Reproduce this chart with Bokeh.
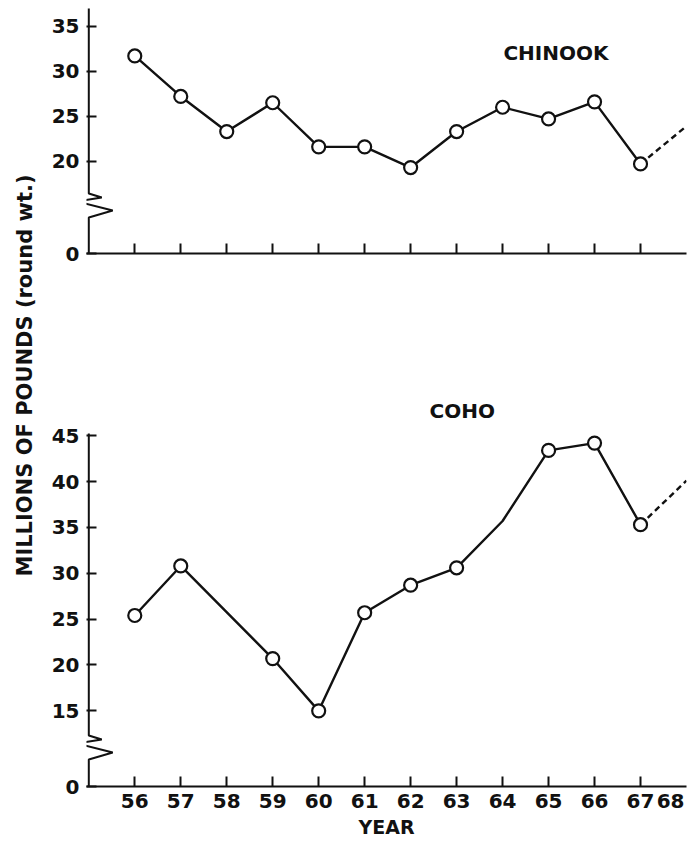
import math
from bokeh.plotting import figure
from bokeh.models import Range1d, FixedTicker, LinearAxis
from bokeh.layouts import row, column
from bokeh.embed import file_html
from bokeh.resources import INLINE
from bokeh.core.properties import value

# ---------------- data ----------------
years = [56, 57, 58, 59, 60, 61, 62, 63, 64, 65, 66, 67]
chinook = [31.7, 27.2, 23.3, 26.5, 21.6, 21.6, 19.3, 23.3, 26.0, 24.7, 26.6, 19.7]
coho = [25.4, 30.8, None, 20.7, 15.0, 25.7, 28.7, 30.6, 35.7, 43.4, 44.2, 35.3]
coho_marked = [True, True, False, True, True, True, True, True, False, True, True, True]
projection_year = 68
chinook_projection = 23.9
coho_projection = 40.1
chinook_ticks = [20, 25, 30, 35]
coho_ticks = [15, 20, 25, 30, 35, 40, 45]
year_tick_labels = ["56", "57", "58", "59", "60", "61", "62", "63", "64", "65", "66", "67", "68"]
y_title = "MILLIONS OF POUNDS (round wt.)"
x_title = "YEAR"
chinook_name = "CHINOOK"
coho_name = "COHO"

# ---------------- layout constants ----------------
W, H = 697, 844
TITLE_W = 44
X0, X1 = 54.95, 68.0
FRAME_W = 602
PX_YR = FRAME_W / (X1 - X0)
FONT = "DejaVu Sans"
INK = "#111111"

# zigzag break shape (pixels, relative to the axis)
zig_dx = [0, 13, -12, 24, 0]
zig_dy = [0, 4, 8, 17, 24]


def panel(fig_h, frame_top, frame_bottom, left, zero_pos, px_unit, ticks,
          axis_top_px, break_top_px):
    frame_h = frame_bottom - frame_top
    y_end = zero_pos + frame_h / px_unit
    p = figure(width=W - TITLE_W, height=fig_h,
               x_range=Range1d(X0, X1), y_range=Range1d(zero_pos, y_end),
               toolbar_location=None, output_backend="svg",
               min_border_left=left - TITLE_W,
               min_border_right=W - (left + FRAME_W),
               min_border_top=frame_top,
               min_border_bottom=fig_h - frame_bottom)
    p.outline_line_color = None
    p.xgrid.visible = False
    p.ygrid.visible = False
    p.background_fill_color = "white"
    p.border_fill_color = "white"

    # y axis: ticks and labels from the library, line drawn with break below
    yax = p.yaxis[0]
    yax.ticker = FixedTicker(ticks=[zero_pos] + ticks)
    yax.major_label_overrides = {zero_pos: "0"}
    yax.axis_line_color = None
    yax.major_tick_in = 10
    yax.major_tick_out = 0
    yax.major_tick_line_width = 2
    yax.major_tick_line_color = INK
    yax.minor_tick_line_color = None
    yax.major_label_text_font = FONT
    yax.major_label_text_font_style = "bold"
    yax.major_label_text_font_size = "20px"
    yax.major_label_text_color = INK
    yax.major_label_standoff = 7

    # x axis line and tick marks (labels carried by a second axis in the lower panel)
    xax = p.xaxis[0]
    xax.ticker = FixedTicker(ticks=years)
    xax.axis_line_width = 2
    xax.axis_line_color = INK
    xax.major_tick_in = 10
    xax.major_tick_out = 0
    xax.major_tick_line_width = 2
    xax.major_tick_line_color = INK
    xax.minor_tick_line_color = None
    xax.major_label_overrides = {y: "" for y in years}
    xax.major_label_text_font_size = "0px"
    xax.major_label_standoff = 0

    def to_val(py):
        return zero_pos + (frame_bottom - py) / px_unit

    ax_x = [X0 + 0.05, X0 + 0.05]
    ax_y = [to_val(axis_top_px), to_val(break_top_px)]
    for dx, dy in zip(zig_dx, zig_dy):
        ax_x.append(X0 + 0.05 + dx / PX_YR)
        ax_y.append(to_val(break_top_px + dy))
    ax_x.append(X0 + 0.05)
    ax_y.append(zero_pos)
    p.line(ax_x, ax_y, line_width=2, color=INK)
    return p, to_val


# ---------------- top panel: Chinook ----------------
top_h = 300
top, top_val = panel(top_h, 4, 253, 86, 9.75, 9.0, chinook_ticks, 8, 193)

top.line(years, chinook, line_width=2.4, color=INK)
top.line([years[-1], projection_year], [chinook[-1], chinook_projection],
         line_width=2.4, color=INK, line_dash="6 4")
top.scatter(years, chinook, size=13, fill_color="white", line_color=INK, line_width=2.2)
top.text(x=[X0 + (557 - 86) / PX_YR], y=[top_val(52)], text=[chinook_name],
         text_font=value(FONT), text_font_style="bold", text_font_size="20px",
         text_align="center", text_baseline="middle", text_color=INK)

# ---------------- bottom panel: Coho ----------------
bot_h = H - top_h
b_left = 84
b_frame_top = 340
b_frame_bottom = 786
bottom, bot_val = panel(bot_h, b_frame_top - top_h, b_frame_bottom - top_h, b_left, 6.75, 9.17,
                        coho_ticks, 433 - top_h, 735 - top_h)

line_x = [y for y, v in zip(years, coho) if v is not None]
line_y = [v for v in coho if v is not None]
mark_x = [y for y, v, m in zip(years, coho, coho_marked) if v is not None and m]
mark_y = [v for v, m in zip(coho, coho_marked) if v is not None and m]
bottom.line(line_x, line_y, line_width=2.4, color=INK)
bottom.line([line_x[-1], projection_year], [line_y[-1], coho_projection],
            line_width=2.4, color=INK, line_dash="6 4")
bottom.scatter(mark_x, mark_y, size=13, fill_color="white", line_color=INK, line_width=2.2)
bottom.text(x=[X0 + (461 - b_left) / PX_YR], y=[bot_val(410 - top_h)], text=[coho_name],
            text_font=value(FONT), text_font_style="bold", text_font_size="20px",
            text_align="center", text_baseline="middle", text_color=INK)

# year labels: second axis below without line/ticks; the last year ("68") is
# squeezed in just before the end of the axis, as printed
label_pos = years + [projection_year - 16 / PX_YR]
lab_axis = LinearAxis(ticker=FixedTicker(ticks=label_pos))
lab_axis.major_label_overrides = {pos: lab for pos, lab in zip(label_pos, year_tick_labels)}
lab_axis.axis_line_color = None
lab_axis.major_tick_line_color = None
lab_axis.minor_tick_line_color = None
lab_axis.major_tick_in = 0
lab_axis.major_tick_out = 0
lab_axis.major_label_standoff = 7
lab_axis.major_label_text_font = FONT
lab_axis.major_label_text_font_style = "bold"
lab_axis.major_label_text_font_size = "20px"
lab_axis.major_label_text_color = INK
lab_axis.axis_label = x_title
lab_axis.axis_label_text_font = FONT
lab_axis.axis_label_text_font_style = "bold"
lab_axis.axis_label_text_font_size = "19px"
lab_axis.axis_label_text_color = INK
lab_axis.axis_label_standoff = 5
bottom.add_layout(lab_axis, "below")

# ---------------- y title ----------------
tf = figure(width=TITLE_W, height=H, x_range=Range1d(0, TITLE_W), y_range=Range1d(0, H),
            toolbar_location=None, output_backend="svg", min_border=0,
            x_axis_type=None, y_axis_type=None)
tf.outline_line_color = None
tf.xgrid.visible = False
tf.ygrid.visible = False
tf.text(x=[24], y=[H - 375], text=[y_title], angle=math.pi / 2,
        text_font=value(FONT), text_font_style="bold", text_font_size="21px",
        text_align="center", text_baseline="middle", text_color=INK)

layout = row(tf, column(top, bottom))
open("out.html", "w").write(file_html(layout, INLINE))
